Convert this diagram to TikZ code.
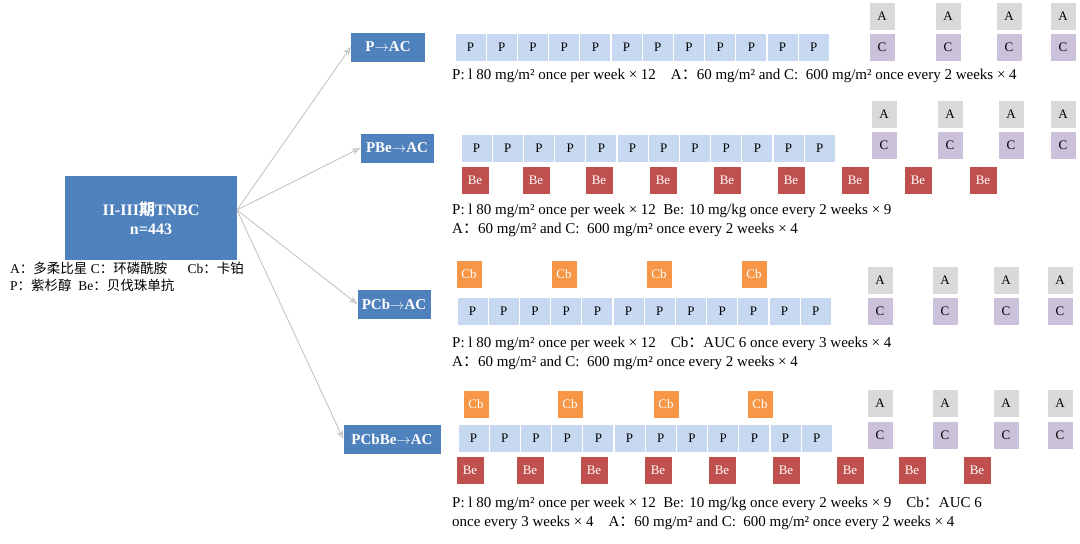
\documentclass[tikz,border=0pt]{standalone}
\usepackage{fontspec}
\setmainfont{Liberation Serif}
\newfontfamily\cjk{Noto Sans CJK SC}
\usetikzlibrary{arrows.meta,positioning}
\definecolor{armblue}{HTML}{4F81BD}
\definecolor{pblue}{HTML}{C6D9F1}
\definecolor{agray}{HTML}{D9D9D9}
\definecolor{clav}{HTML}{CCC1DA}
\definecolor{bered}{HTML}{C0504D}
\definecolor{cborange}{HTML}{F79646}
\newcommand\fc{{\cjk ：}}
\begin{document}
\begin{tikzpicture}[
    x=1pt, y=-1pt,
    every node/.style={font=\fontsize{13}{14}\selectfont},
    cell/.style={rectangle, draw=white, line width=1pt, minimum width=#1, minimum height=28pt, inner sep=0pt},
    cell/.default=31pt,
    pbox/.style={cell, fill=pblue},
    abox/.style={cell=26pt, fill=agray},
    cbox/.style={cell=26pt, fill=clav},
    bebox/.style={cell=28pt, fill=bered, text=white},
    cbbox/.style={cell=26pt, fill=cborange, text=white},
    arm/.style={rectangle, fill=armblue, text=white, inner sep=0pt, minimum height=29pt,
        font=\fontsize{15}{16}\selectfont\bfseries},
    note/.style={anchor=west, inner sep=0pt, font=\fontsize{15}{19}\selectfont},
    link/.style={draw=black!25, line width=0.8pt, -{Stealth[length=3mm, open]}}
]
\useasboundingbox (0,0) rectangle (1080,544);

% cohort and arms
\node[arm, minimum width=172pt, minimum height=84pt, align=center,
    font=\fontsize{16}{19}\selectfont\bfseries] (main) at (151,218)
    {II-III{\cjk 期}TNBC\\n=443};
\node[arm, minimum width=74pt] (pac) at (388,47) {P$\rightarrow$AC};
\node[arm, minimum width=73pt] (pbeac) at (397,148) {PBe$\rightarrow$AC};
\node[arm, minimum width=73pt] (pcbac) at (394,304) {PCb$\rightarrow$AC};
\node[arm, minimum width=97pt] (pcbbeac) at (392,439) {PCbBe$\rightarrow$AC};
\coordinate (fork) at (237,210);
\foreach \t in {pac,pbeac,pcbac,pcbbeac}
    \draw[link] (fork) -- (\t.west);

% legend
\node[note, font=\fontsize{13.5}{17}\selectfont, align=left] (legend) at (10,277)
    {A\fc{\cjk 多柔比星} C\fc{\cjk 环磷酰胺}\quad\ \ Cb\fc{\cjk 卡铂}\\
     P\fc{\cjk 紫杉醇}\ \ Be\fc{\cjk 贝伐珠单抗}};

% P weekly x12
\foreach \x/\y/\r in {455/47/a, 461/148/b, 457/311/c, 458/438/d}
    \foreach \i in {1,...,12}
        \node[pbox] (p\r\i) at ({\x+15.6+31.2*(\i-1)},\y) {P};

% A and C
\foreach \ya/\yc/\r/\xs in {16/47/a/{882,948,1009,1063}, 114/145/b/{884,950,1011,1063},
        280/311/c/{880,945,1006,1060}, 403/435/d/{880,945,1006,1060}}
    \foreach \x [count=\i] in \xs {
        \node[abox] (a\r\i) at (\x,\ya) {A};
        \node[cbox] (c\r\i) at (\x,\yc) {C};
    }

% Be
\foreach \x [count=\i] in {475,536,599,663,727,791,855,918,983}
    \node[bebox] (beb\i) at (\x,180) {Be};
\foreach \x [count=\i] in {470,530,594,658,722,786,850,912,977}
    \node[bebox] (bed\i) at (\x,470) {Be};

% Cb
\foreach \x [count=\i] in {469,564,659,754}
    \node[cbbox] (cbc\i) at (\x,274) {Cb};
\foreach \x [count=\i] in {476,570,666,760}
    \node[cbbox] (cbd\i) at (\x,404) {Cb};

% dosing notes
\node[note] (na) at (452,76) {P: l 80 mg/m² once per week × 12\quad A\fc60 mg/m² and C:\ \ 600 mg/m² once every 2 weeks × 4};
\node[note, align=left, anchor=north west] (nb) at (452,204) {P: l 80 mg/m² once per week × 12\ \ Be: 10 mg/kg once every 2 weeks × 9\\A\fc60 mg/m² and C:\ \ 600 mg/m² once every 2 weeks × 4};
\node[note, align=left, anchor=north west] (nc) at (452,337) {P: l 80 mg/m² once per week × 12\quad Cb\fc AUC 6 once every 3 weeks × 4\\A\fc60 mg/m² and C:\ \ 600 mg/m² once every 2 weeks × 4};
\node[note, align=left, anchor=north west] (nd) at (452,497) {P: l 80 mg/m² once per week × 12\ \ Be: 10 mg/kg once every 2 weeks × 9\quad Cb\fc AUC 6\\once every 3 weeks × 4\quad A\fc60 mg/m² and C:\ \ 600 mg/m² once every 2 weeks × 4};
\end{tikzpicture}
\end{document}
